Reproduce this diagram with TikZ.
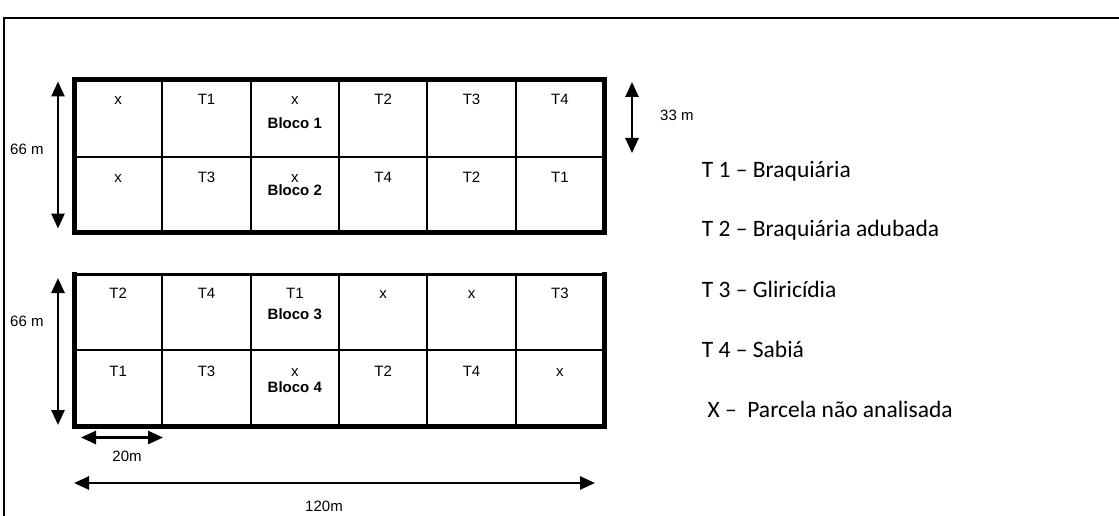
\documentclass[tikz,border=0pt]{standalone}
\usepackage{fontspec}
\setmainfont{Liberation Sans}
\newfontfamily\legendfont{Carlito}
\usetikzlibrary{arrows.meta}
\begin{document}
\begin{tikzpicture}[x=1pt,y=-1pt,
  frame/.style={line width=2pt},
  thickborder/.style={line width=5pt,line cap=rect},
  midborder/.style={line width=3pt,line cap=rect},
  innerline/.style={line width=2.2pt},
  dimarrow/.style={line width=2.6pt,{Triangle[length=15pt,width=13pt]}-{Triangle[length=15pt,width=13pt]}},
  cell/.style={inner sep=0pt,anchor=base,font=\fontsize{15}{18}\selectfont},
  bloco/.style={inner sep=0pt,anchor=base,font=\fontsize{15}{18}\selectfont\bfseries},
  dimlabel/.style={inner sep=0pt,font=\fontsize{15}{18}\selectfont},
  legend/.style={inner sep=0pt,anchor=base west,font=\legendfont\fontsize{23.5}{28}\selectfont}]
\useasboundingbox (0,0) rectangle (1119,516);
% outer frame
\draw[frame] (3.5,530) -- (3.5,18) -- (1130,18);
% upper block (Bloco 1 and 2)
\foreach \k in {1,...,5} \draw[innerline] ({74+88.33*\k},80) -- ({74+88.33*\k},232);
\draw[innerline] (74,157) -- (604,157);
\draw[thickborder] (74,80) rectangle (604,232);
% lower block (Bloco 3 and 4)
\foreach \k in {1,...,5} \draw[innerline] ({74+88.33*\k},274) -- ({74+88.33*\k},426);
\draw[innerline] (74,350) -- (604,350);
\draw[midborder] (74,274) -- (604,274);
\draw[thickborder] (74,274) -- (74,426) -- (604,426) -- (604,274);
% cell labels
\foreach \t [count=\i from 0] in {x,T1,x,T2,T3,T4}
  \node[cell] (ua\i) at ({118.2+88.33*\i},105) {\t};
\foreach \t [count=\i from 0] in {x,T3,x,T4,T2,T1}
  \node[cell] (ub\i) at ({118.2+88.33*\i},182.5) {\t};
\foreach \t [count=\i from 0] in {T2,T4,T1,x,x,T3}
  \node[cell] (la\i) at ({118.2+88.33*\i},298.5) {\t};
\foreach \t [count=\i from 0] in {T1,T3,x,T2,T4,x}
  \node[cell] (lb\i) at ({118.2+88.33*\i},376) {\t};
\node[bloco] (b1) at (294.8,128.5) {Bloco 1};
\node[bloco] (b2) at (294.8,195) {Bloco 2};
\node[bloco] (b3) at (294.8,319) {Bloco 3};
\node[bloco] (b4) at (294.8,392.5) {Bloco 4};
% dimension arrows
\coordinate (ua1) at (58,81.5);
\coordinate (ua2) at (58,228.5);
\coordinate (la1) at (58,278);
\coordinate (la2) at (58,425);
\coordinate (ta1) at (632,82);
\coordinate (ta2) at (632,153);
\coordinate (wa1) at (81,437.5);
\coordinate (wa2) at (163,437.5);
\coordinate (ha1) at (74,483);
\coordinate (ha2) at (595,483);
\draw[dimarrow] (ua1) -- (ua2);
\draw[dimarrow] (la1) -- (la2);
\draw[dimarrow] (ta1) -- (ta2);
\draw[dimarrow] (wa1) -- (wa2);
\draw[dimarrow] (ha1) -- (ha2);
\node[dimlabel,anchor=base west] (d66a) at (10,155) {66 m};
\node[dimlabel,anchor=base west] (d66b) at (10,326.5) {66 m};
\node[dimlabel,anchor=base west] (d33) at (660,120.5) {33 m};
\node[dimlabel,anchor=base] (d20) at (127,461) {20m};
\node[dimlabel,anchor=base] (d120) at (324,511.5) {120m};
% legend
\node[legend] (l1) at (701.7,177.3) {T 1 – Braquiária};
\node[legend] (l2) at (701.7,236.7) {T 2 – Braquiária adubada};
\node[legend] (l3) at (701.7,297.3) {T 3 – Gliricídia};
\node[legend] (l4) at (701.7,357.7) {T 4 – Sabiá};
\node[legend] (l5) at (707.3,417.7) {X –\ \ Parcela não analisada};
\end{tikzpicture}
\end{document}
